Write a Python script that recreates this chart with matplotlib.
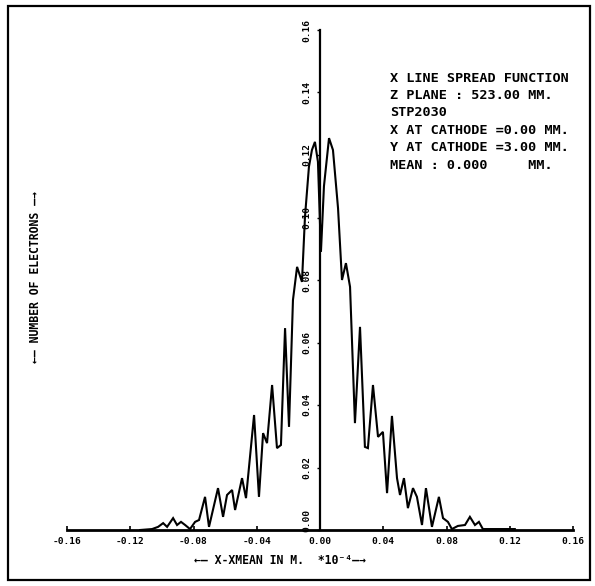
import matplotlib
matplotlib.use("Agg")
import matplotlib.pyplot as plt
from matplotlib.patches import Rectangle
import matplotlib.transforms as mtransforms

# ---- data ----
x_vals = [-0.1138, -0.1062, -0.1024, -0.0992, -0.0967, -0.0929, -0.0904, -0.0879,
          -0.0853, -0.0822, -0.0790, -0.0765, -0.0727, -0.0702, -0.0645, -0.0613,
          -0.0588, -0.0556, -0.0537, -0.0493, -0.0468, -0.0417, -0.0386, -0.0360,
          -0.0335, -0.0303, -0.0272, -0.0247, -0.0221, -0.0196, -0.0171, -0.0145,
          -0.0114, -0.0095, -0.0070, -0.0051, -0.0032, -0.0013, 0.0006, 0.0025,
          0.0057, 0.0082, 0.0114, 0.0139, 0.0164, 0.0190, 0.0221, 0.0253,
          0.0284, 0.0303, 0.0335, 0.0367, 0.0398, 0.0424, 0.0455, 0.0487,
          0.0506, 0.0531, 0.0556, 0.0588, 0.0613, 0.0645, 0.0670, 0.0708,
          0.0752, 0.0778, 0.0809, 0.0834, 0.0872, 0.0917, 0.0948, 0.0980,
          0.1005, 0.1030, 0.1106, 0.1232]
y_vals = [0.0, 0.0003, 0.0010, 0.0022, 0.0010, 0.0038, 0.0016, 0.0026,
          0.0016, 0.0003, 0.0026, 0.0032, 0.0106, 0.0010, 0.0134, 0.0042,
          0.0112, 0.0128, 0.0064, 0.0166, 0.0102, 0.0368, 0.0106, 0.0310,
          0.0278, 0.0464, 0.0262, 0.0272, 0.0646, 0.0330, 0.0736, 0.0842,
          0.0794, 0.1002, 0.1162, 0.1216, 0.1242, 0.1178, 0.0890, 0.1100,
          0.1254, 0.1216, 0.1030, 0.0800, 0.0854, 0.0778, 0.0342, 0.0650,
          0.0266, 0.0262, 0.0464, 0.0298, 0.0314, 0.0118, 0.0365, 0.0166,
          0.0112, 0.0166, 0.0070, 0.0134, 0.0106, 0.0016, 0.0134, 0.0010,
          0.0106, 0.0038, 0.0026, 0.0003, 0.0013, 0.0016, 0.0042, 0.0016,
          0.0026, 0.0003, 0.0003, 0.0003]

x_ticks = [-0.16, -0.12, -0.08, -0.04, 0.00, 0.04, 0.08, 0.12, 0.16]
x_tick_labels = ["-0.16", "-0.12", "-0.08", "-0.04", "0.00", "0.04", "0.08", "0.12", "0.16"]
y_ticks = [0.00, 0.02, 0.04, 0.06, 0.08, 0.10, 0.12, 0.14, 0.16]
y_tick_labels = ["0.00", "0.02", "0.04", "0.06", "0.08", "0.10", "0.12", "0.14", "0.16"]

info_lines = ["X LINE SPREAD FUNCTION",
              "Z PLANE : 523.00 MM.",
              "STP2030",
              "X AT CATHODE =0.00 MM.",
              "Y AT CATHODE =3.00 MM.",
              "MEAN : 0.000     MM."]

FONT = "DejaVu Sans Mono"

fig = plt.figure(figsize=(5.95, 5.86), dpi=100)
ax = fig.add_axes([67 / 595, (586 - 530) / 586, 506 / 595, 500 / 586])

ax.plot(x_vals, y_vals, color="black", lw=1.5, solid_joinstyle="miter")

ax.set_xlim(-0.16, 0.16)
ax.set_ylim(0, 0.16)

ax.spines["top"].set_visible(False)
ax.spines["right"].set_visible(False)
ax.spines["left"].set_position(("data", 0))
ax.spines["left"].set_linewidth(1.6)
ax.spines["bottom"].set_linewidth(2.0)

ax.set_xticks(x_ticks)
ax.set_xticklabels(x_tick_labels, fontfamily=FONT, fontweight="bold", fontsize=6.8)
ax.set_yticks(y_ticks)
ax.set_yticklabels(y_tick_labels, fontfamily=FONT, fontweight="bold", fontsize=6.8,
                   rotation=90, va="center")
ax.tick_params(axis="x", direction="in", length=3, width=1.2, pad=5)
ax.tick_params(axis="y", direction="out", length=2, width=1.0, pad=4)

# nudge the 0.00 y label up so it clears the x axis
lab0 = ax.get_yticklabels()[0]
lab0.set_transform(lab0.get_transform() + mtransforms.ScaledTranslation(0, 10 / 100, fig.dpi_scale_trans))

fig.text(280 / 595, 1 - 561 / 586, "\u2190\u2014 X-XMEAN IN M.  *10\u207b\u2074\u2014\u2192",
         ha="center", va="center", fontfamily=FONT,
         fontweight="bold", fontsize=8.3)
fig.text(36 / 595, 1 - 277 / 586, "\u2190\u2014 NUMBER OF ELECTRONS \u2014\u2192",
         rotation=90, ha="center", va="center", fontfamily=FONT,
         fontweight="bold", fontsize=8.3)

y0 = 78
for i, line in enumerate(info_lines):
    fig.text(390 / 595, 1 - (y0 + i * 17.4) / 586, line, ha="left", va="center",
             fontfamily=FONT, fontweight="bold", fontsize=9.7)

fig.patches.append(Rectangle((8 / 595, 6 / 586), 582 / 595, 574 / 586,
                             transform=fig.transFigure, fill=False,
                             edgecolor="black", lw=1.6))

fig.savefig("out.png", dpi=100)
